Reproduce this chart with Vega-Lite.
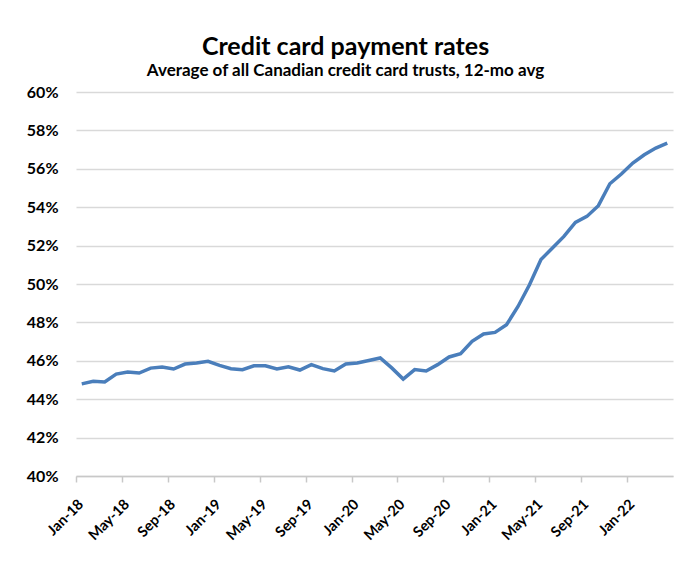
{
  "$schema": "https://vega.github.io/schema/vega-lite/v6.json",
  "width": 597,
  "height": 384,
  "autosize": {"type": "none"},
  "padding": {"left": 76, "top": 92, "right": 11, "bottom": 87},
  "background": "white",
  "title": {
    "text": "Credit card payment rates",
    "subtitle": "Average of all Canadian credit card trusts, 12-mo avg",
    "font": "Lato",
    "fontSize": 25,
    "fontWeight": "bold",
    "subtitleFont": "Lato",
    "subtitleFontSize": 17,
    "subtitleFontWeight": "bold",
    "color": "black",
    "subtitleColor": "black",
    "anchor": "middle",
    "dx": -29,
    "offset": 5,
    "subtitlePadding": 3
  },
  "data": {
    "values": [
      {"month": "Jan-18", "rate": 0.4480},
      {"month": "Feb-18", "rate": 0.4493},
      {"month": "Mar-18", "rate": 0.4490},
      {"month": "Apr-18", "rate": 0.4531},
      {"month": "May-18", "rate": 0.4542},
      {"month": "Jun-18", "rate": 0.4536},
      {"month": "Jul-18", "rate": 0.4562},
      {"month": "Aug-18", "rate": 0.4568},
      {"month": "Sep-18", "rate": 0.4557},
      {"month": "Oct-18", "rate": 0.4583},
      {"month": "Nov-18", "rate": 0.4589},
      {"month": "Dec-18", "rate": 0.4597},
      {"month": "Jan-19", "rate": 0.4576},
      {"month": "Feb-19", "rate": 0.4559},
      {"month": "Mar-19", "rate": 0.4554},
      {"month": "Apr-19", "rate": 0.4574},
      {"month": "May-19", "rate": 0.4574},
      {"month": "Jun-19", "rate": 0.4557},
      {"month": "Jul-19", "rate": 0.4569},
      {"month": "Aug-19", "rate": 0.4552},
      {"month": "Sep-19", "rate": 0.4580},
      {"month": "Oct-19", "rate": 0.4559},
      {"month": "Nov-19", "rate": 0.4547},
      {"month": "Dec-19", "rate": 0.4583},
      {"month": "Jan-20", "rate": 0.4589},
      {"month": "Feb-20", "rate": 0.4602},
      {"month": "Mar-20", "rate": 0.4615},
      {"month": "Apr-20", "rate": 0.4563},
      {"month": "May-20", "rate": 0.4505},
      {"month": "Jun-20", "rate": 0.4554},
      {"month": "Jul-20", "rate": 0.4547},
      {"month": "Aug-20", "rate": 0.4580},
      {"month": "Sep-20", "rate": 0.4620},
      {"month": "Oct-20", "rate": 0.4637},
      {"month": "Nov-20", "rate": 0.4701},
      {"month": "Dec-20", "rate": 0.4740},
      {"month": "Jan-21", "rate": 0.4748},
      {"month": "Feb-21", "rate": 0.4788},
      {"month": "Mar-21", "rate": 0.4883},
      {"month": "Apr-21", "rate": 0.4996},
      {"month": "May-21", "rate": 0.5127},
      {"month": "Jun-21", "rate": 0.5188},
      {"month": "Jul-21", "rate": 0.5248},
      {"month": "Aug-21", "rate": 0.5321},
      {"month": "Sep-21", "rate": 0.5352},
      {"month": "Oct-21", "rate": 0.5408},
      {"month": "Nov-21", "rate": 0.5522},
      {"month": "Dec-21", "rate": 0.5573},
      {"month": "Jan-22", "rate": 0.5630},
      {"month": "Feb-22", "rate": 0.5673},
      {"month": "Mar-22", "rate": 0.5708},
      {"month": "Apr-22", "rate": 0.5734}
    ]
  },
  "mark": {"type": "line", "color": "#4a7ebb", "strokeWidth": 3.5},
  "encoding": {
    "x": {
      "field": "month",
      "type": "ordinal",
      "sort": null,
      "scale": {"type": "point", "padding": 0.5},
      "axis": {
        "title": null,
        "values": ["Jan-18", "May-18", "Sep-18", "Jan-19", "May-19", "Sep-19", "Jan-20", "May-20", "Sep-20", "Jan-21", "May-21", "Sep-21", "Jan-22"],
        "labelAngle": -45,
        "labelFont": "Lato",
        "labelFontSize": 14.5,
        "labelFontWeight": "bold",
        "labelColor": "black",
        "tickOffset": -5.74,
        "tickColor": "#c8c8c8",
        "tickSize": 6,
        "tickWidth": 1.5,
        "domainColor": "#c8c8c8",
        "domainWidth": 1.5,
        "labelPadding": 15,
        "grid": false
      }
    },
    "y": {
      "field": "rate",
      "type": "quantitative",
      "scale": {"domain": [0.4, 0.6], "nice": false, "zero": false},
      "axis": {
        "title": null,
        "format": ".0%",
        "values": [0.4, 0.42, 0.44, 0.46, 0.48, 0.5, 0.52, 0.54, 0.56, 0.58, 0.6],
        "labelFont": "Lato",
        "labelFontSize": 16,
        "labelFontWeight": "bold",
        "labelColor": "black",
        "ticks": false,
        "domain": false,
        "gridColor": "#d9d9d9",
        "gridWidth": 1.5,
        "labelPadding": 18
      }
    }
  },
  "config": {"view": {"stroke": null}}
}
